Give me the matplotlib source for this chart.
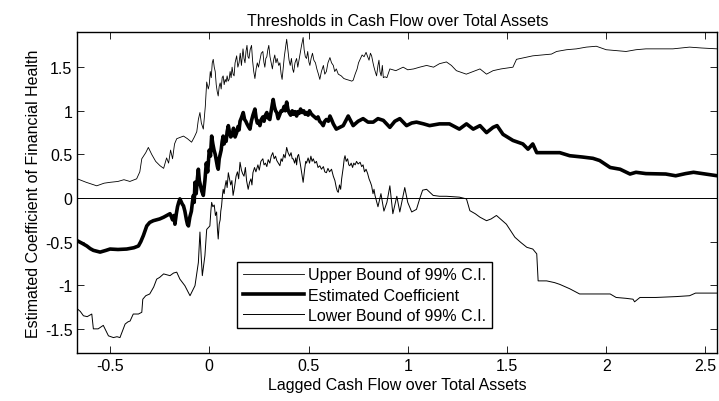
import matplotlib
matplotlib.use("Agg")
import matplotlib.pyplot as plt

# values (x = lagged cash flow, y = coefficient)

upper_x = [-0.665, -0.62, -0.567, -0.53, -0.50, -0.46, -0.43, -0.40, -0.366, -0.35, -0.34, -0.32,
           -0.307, -0.29, -0.27, -0.248, -0.23, -0.215, -0.205, -0.195, -0.185, -0.175, -0.164,
           -0.13, -0.11, -0.089, -0.075, -0.063, -0.055, -0.047, -0.04, -0.03, -0.02, -0.013,
           -0.005,
           0.000, 0.005, 0.010, 0.015, 0.020, 0.025, 0.030, 0.035, 0.040, 0.045, 0.050, 0.055,
           0.060, 0.065, 0.070, 0.075, 0.080, 0.085, 0.090, 0.095, 0.100, 0.105, 0.110, 0.115,
           0.120, 0.125, 0.130, 0.138, 0.144, 0.150, 0.156, 0.162, 0.170, 0.175, 0.180, 0.185,
           0.190, 0.195, 0.200, 0.206, 0.213, 0.218, 0.224, 0.230, 0.236, 0.242, 0.248, 0.256,
           0.262, 0.270, 0.275, 0.280, 0.285, 0.290, 0.295, 0.300, 0.306, 0.312, 0.318, 0.324,
           0.330, 0.336, 0.342, 0.350, 0.356, 0.362, 0.367, 0.372, 0.378, 0.384, 0.390, 0.396,
           0.402, 0.408, 0.414, 0.420, 0.425, 0.432, 0.440, 0.446, 0.452, 0.458, 0.465, 0.473,
           0.478, 0.484, 0.490, 0.496, 0.502, 0.507, 0.513, 0.520, 0.527, 0.535, 0.542, 0.550,
           0.557, 0.565, 0.575, 0.582, 0.590, 0.598, 0.608, 0.616, 0.625, 0.632, 0.640, 0.650,
           0.665, 0.678, 0.690, 0.705, 0.718, 0.725, 0.735, 0.745, 0.752, 0.760, 0.770, 0.780,
           0.790, 0.798, 0.805, 0.812, 0.818, 0.825, 0.830, 0.836, 0.843, 0.850, 0.855, 0.860,
           0.866, 0.872, 0.877, 0.885, 0.895,
           0.91, 0.94, 0.977, 1.00, 1.03, 1.06, 1.095, 1.13, 1.16,
           1.195, 1.22, 1.245, 1.295, 1.33, 1.364, 1.397, 1.43, 1.47, 1.53, 1.548, 1.59, 1.63,
           1.68, 1.724, 1.75, 1.80, 1.85, 1.90, 1.95, 2.00, 2.05, 2.10, 2.15, 2.20, 2.28, 2.336,
           2.42, 2.48, 2.56]
upper_y = [0.22, 0.18, 0.14, 0.17, 0.18, 0.19, 0.21, 0.19, 0.22, 0.30, 0.45, 0.52,
           0.58, 0.50, 0.42, 0.37, 0.34, 0.46, 0.40, 0.55, 0.45, 0.62, 0.68,
           0.71, 0.68, 0.64, 0.70, 0.76, 0.90, 0.98, 0.86, 0.79, 1.05, 1.33,
           1.25,
           1.30, 1.45, 1.38, 1.55, 1.59, 1.50, 1.45, 1.30, 1.22, 1.17, 1.28, 1.32,
           1.25, 1.38, 1.40, 1.30, 1.36, 1.33, 1.40, 1.34, 1.36, 1.45, 1.38, 1.50,
           1.42, 1.40, 1.55, 1.63, 1.50, 1.55, 1.66, 1.52, 1.71, 1.60, 1.55, 1.68,
           1.75, 1.62, 1.60, 1.70, 1.75, 1.58, 1.45, 1.37, 1.48, 1.55, 1.50, 1.59,
           1.66, 1.68, 1.56, 1.50, 1.60, 1.62, 1.70, 1.75, 1.62, 1.55, 1.48, 1.58,
           1.64, 1.55, 1.60, 1.52, 1.55, 1.42, 1.36, 1.48, 1.62, 1.72, 1.82, 1.70,
           1.58, 1.52, 1.60, 1.48, 1.44, 1.55, 1.60, 1.50, 1.58, 1.66, 1.75, 1.84,
           1.70, 1.62, 1.60, 1.68, 1.56, 1.52, 1.60, 1.66, 1.58, 1.55, 1.48, 1.42,
           1.36, 1.45, 1.52, 1.42, 1.45, 1.55, 1.61, 1.55, 1.52, 1.45, 1.48, 1.42,
           1.40, 1.37, 1.36, 1.35, 1.34, 1.35, 1.42, 1.48, 1.55, 1.59, 1.64, 1.62,
           1.67, 1.62, 1.58, 1.66, 1.63, 1.55, 1.50, 1.45, 1.40, 1.52, 1.58, 1.45,
           1.40, 1.52, 1.38, 1.39, 1.38,
           1.48, 1.46, 1.50, 1.47, 1.48, 1.50, 1.52, 1.50, 1.54,
           1.56, 1.52, 1.46, 1.42, 1.45, 1.48, 1.42, 1.46, 1.48, 1.50, 1.59, 1.61, 1.63,
           1.64, 1.65, 1.68, 1.70, 1.71, 1.73, 1.74, 1.70, 1.69, 1.68, 1.70, 1.71, 1.71, 1.71,
           1.73, 1.72, 1.71]

coef_x = [-0.665, -0.64, -0.617, -0.60, -0.584, -0.55, -0.52, -0.50, -0.46, -0.416, -0.38, -0.357,
          -0.345, -0.332, -0.315, -0.30, -0.282, -0.25, -0.23,
          -0.198, -0.19, -0.185, -0.178, -0.173, -0.166, -0.16, -0.154, -0.148, -0.142, -0.136,
          -0.13, -0.123, -0.115, -0.11, -0.105, -0.098, -0.09, -0.085, -0.08, -0.076, -0.072,
          -0.066, -0.06, -0.055, -0.05, -0.045, -0.038, -0.03, -0.022, -0.015, -0.008,
          0.000, 0.006, 0.012, 0.018, 0.024, 0.030, 0.036, 0.041, 0.045, 0.050, 0.055, 0.060,
          0.065, 0.070, 0.075, 0.080, 0.085, 0.090, 0.096, 0.102, 0.108, 0.115, 0.122, 0.130,
          0.138, 0.145, 0.150, 0.155, 0.162, 0.171, 0.178, 0.184, 0.190, 0.197, 0.205, 0.212,
          0.220, 0.230, 0.236, 0.242, 0.248, 0.255, 0.262, 0.270, 0.276, 0.283, 0.290, 0.296,
          0.305, 0.312, 0.318, 0.322, 0.328, 0.334, 0.340, 0.347, 0.354, 0.362, 0.370, 0.377,
          0.383, 0.390, 0.396, 0.402, 0.410, 0.418, 0.425, 0.432, 0.440, 0.446, 0.453, 0.460,
          0.468, 0.476, 0.483, 0.490, 0.498, 0.505, 0.512, 0.520, 0.530, 0.540, 0.548, 0.556,
          0.565, 0.574, 0.582, 0.590, 0.600, 0.608, 0.616, 0.625,
          0.64, 0.675, 0.70, 0.725, 0.75, 0.775,
          0.80, 0.826, 0.85, 0.877, 0.91, 0.935, 0.96, 0.994, 1.02, 1.044, 1.08, 1.11, 1.16, 1.21,
          1.26, 1.296, 1.33, 1.364, 1.397, 1.43, 1.45, 1.48, 1.53, 1.58, 1.606, 1.63, 1.65, 1.70,
          1.766, 1.816, 1.88, 1.933, 1.967, 2.02, 2.07, 2.12, 2.15, 2.20, 2.30, 2.35, 2.40, 2.44,
          2.50, 2.56]
coef_y = [-0.49, -0.52, -0.55, -0.58, -0.60, -0.62, -0.60, -0.585, -0.59, -0.585, -0.57, -0.55,
          -0.50, -0.43, -0.32, -0.28, -0.26, -0.24, -0.22,
          -0.18, -0.22, -0.25, -0.20, -0.30, -0.18, -0.10, -0.05, -0.01, -0.04, -0.07,
          -0.09, -0.15, -0.25, -0.30, -0.32, -0.22, -0.15, -0.05, 0.03, -0.05, 0.18,
          0.05, 0.22, 0.33, 0.20, 0.15, 0.08, 0.03, 0.20, 0.40, 0.30,
          0.55, 0.48, 0.71, 0.62, 0.55, 0.50, 0.42, 0.36, 0.33, 0.45, 0.50, 0.55,
          0.65, 0.71, 0.62, 0.68, 0.65, 0.76, 0.83, 0.75, 0.70, 0.72, 0.80, 0.70,
          0.75, 0.82, 0.78, 0.88, 0.92, 0.98, 0.90, 0.88, 0.85, 0.82, 0.79, 0.88,
          0.95, 1.02, 0.92, 0.86, 0.88, 0.83, 0.90, 0.93, 0.88, 0.95, 0.98, 0.92,
          0.90, 1.00, 1.08, 1.13, 1.05, 1.00, 0.98, 0.91, 0.95, 1.00, 1.00, 1.05,
          1.00, 1.10, 1.02, 0.98, 0.95, 1.00, 0.96, 0.99, 0.94, 0.99, 0.97, 1.02,
          0.98, 1.00, 0.96, 0.98, 0.95, 1.00, 0.97, 0.95, 0.93, 0.91, 0.93, 0.88,
          0.86, 0.83, 0.88, 0.90, 0.88, 0.94, 0.90, 0.85,
          0.79, 0.83, 0.94, 0.83, 0.88, 0.91,
          0.87, 0.87, 0.91, 0.89, 0.81, 0.88, 0.91, 0.83, 0.86, 0.87, 0.85, 0.83, 0.85, 0.85,
          0.79, 0.85, 0.79, 0.83, 0.75, 0.81, 0.83, 0.73, 0.66, 0.62, 0.56, 0.62, 0.52, 0.52,
          0.52, 0.485, 0.47, 0.455, 0.43, 0.35, 0.33, 0.275, 0.295, 0.28, 0.275, 0.255, 0.28, 0.295,
          0.275, 0.255]

lower_x = [-0.665, -0.65, -0.634, -0.615, -0.592, -0.584, -0.56, -0.534, -0.508, -0.483, -0.465,
           -0.45, -0.44, -0.424, -0.41, -0.399, -0.383, -0.357, -0.34, -0.335, -0.32, -0.30, -0.28,
           -0.265, -0.25, -0.23, -0.198, -0.18, -0.164, -0.148, -0.123, -0.097, -0.072, -0.055,
           -0.047, -0.04, -0.035, -0.022, -0.013,
           0.003, 0.008, 0.012, 0.018, 0.025, 0.031, 0.037, 0.041, 0.045, 0.050, 0.055, 0.058,
           0.062, 0.066, 0.070, 0.075, 0.080, 0.085, 0.090, 0.096, 0.102, 0.108, 0.114, 0.120,
           0.127, 0.135, 0.142, 0.148, 0.155, 0.162, 0.168, 0.175, 0.182, 0.188, 0.196, 0.203,
           0.210, 0.215, 0.220, 0.228, 0.235, 0.245, 0.252, 0.260, 0.270, 0.276, 0.283, 0.290,
           0.297, 0.305, 0.312, 0.320, 0.327, 0.334, 0.340, 0.348, 0.356, 0.362, 0.368, 0.375,
           0.382, 0.390, 0.397, 0.405, 0.412, 0.418, 0.423, 0.430, 0.436, 0.440, 0.445, 0.450,
           0.458, 0.465, 0.473, 0.480, 0.486, 0.490, 0.498, 0.505, 0.512, 0.518, 0.524, 0.532,
           0.540, 0.548, 0.557, 0.565, 0.575, 0.582, 0.590, 0.598, 0.606, 0.616, 0.625, 0.633,
           0.640, 0.645, 0.650, 0.656, 0.662, 0.667, 0.675, 0.680, 0.684, 0.690, 0.697, 0.703,
           0.708, 0.715, 0.722, 0.728, 0.735, 0.742, 0.750, 0.760, 0.768, 0.775, 0.782, 0.790,
           0.798, 0.805, 0.812, 0.818, 0.825, 0.830, 0.835,
           0.85, 0.865, 0.88, 0.895, 0.91, 0.925, 0.945, 0.96, 0.985, 1.00, 1.02, 1.044, 1.06,
           1.075, 1.095, 1.128, 1.16, 1.195, 1.26, 1.296, 1.313, 1.34, 1.364, 1.397, 1.42, 1.447,
           1.497, 1.54, 1.57, 1.60, 1.63, 1.65, 1.657, 1.70, 1.74, 1.766, 1.816, 1.866, 1.95,
           2.02, 2.05, 2.10, 2.135, 2.143, 2.17, 2.25, 2.353, 2.42, 2.45, 2.56]
lower_y = [-1.27, -1.30, -1.35, -1.36, -1.33, -1.50, -1.50, -1.46, -1.58, -1.60, -1.59,
           -1.60, -1.54, -1.445, -1.42, -1.41, -1.33, -1.33, -1.31, -1.16, -1.12, -1.10, -1.02,
           -0.93, -0.91, -0.87, -0.89, -0.86, -0.85, -0.93, -1.005, -1.12, -1.005, -0.74,
           -0.39, -0.70, -0.89, -0.66, -0.36,
           -0.32, -0.15, -0.05, -0.10, -0.08, -0.20, -0.16, -0.35, -0.47, -0.30, -0.25, -0.15,
           -0.09, 0.02, 0.10, 0.05, 0.14, 0.20, 0.12, 0.29, 0.22, 0.15, 0.20, 0.03,
           0.12, 0.25, 0.30, 0.22, 0.41, 0.32, 0.28, 0.25, 0.35, 0.20, 0.10, 0.18,
           0.22, 0.15, 0.29, 0.35, 0.30, 0.38, 0.32, 0.42, 0.45, 0.38, 0.40, 0.36,
           0.44, 0.40, 0.48, 0.52, 0.45, 0.48, 0.43, 0.40, 0.37, 0.45, 0.42, 0.50,
           0.46, 0.58, 0.52, 0.48, 0.52, 0.45, 0.45, 0.40, 0.46, 0.38, 0.48, 0.50,
           0.40, 0.30, 0.18, 0.32, 0.42, 0.40, 0.46, 0.40, 0.48, 0.42, 0.45, 0.40,
           0.42, 0.35, 0.37, 0.33, 0.36, 0.30, 0.29, 0.34, 0.30, 0.33, 0.25, 0.20,
           0.12, 0.08, 0.065, 0.15, 0.10, 0.22, 0.35, 0.45, 0.485, 0.42, 0.45, 0.38,
           0.37, 0.40, 0.35, 0.40, 0.38, 0.42, 0.39, 0.41, 0.36, 0.38, 0.30, 0.33,
           0.28, 0.22, 0.18, 0.14, 0.05, 0.10, 0.03,
           -0.10, 0.05, -0.15, -0.05, 0.14, -0.18, 0.02, -0.16, 0.12, -0.05, -0.16, -0.13, -0.01,
           0.09, 0.10, 0.03, 0.02, 0.02, 0.01, -0.01, -0.145, -0.18, -0.22, -0.26, -0.24, -0.20,
           -0.30, -0.45, -0.51, -0.565, -0.585, -0.64, -0.95, -0.95, -0.97, -0.99, -1.04, -1.10, -1.10,
           -1.10, -1.14, -1.15, -1.16, -1.19, -1.14, -1.14, -1.13, -1.12, -1.09, -1.09]

plt.rcParams['font.family'] = ['Liberation Sans', 'DejaVu Sans']
plt.rcParams['font.size'] = 11.5

fig = plt.figure(figsize=(7.19, 4.02), dpi=100)
ax = fig.add_axes([0.1075, 0.1187, 0.8902, 0.7985])

ax.plot(upper_x, upper_y, color='black', linewidth=0.6, label='Upper Bound of 99% C.I.')
ax.plot(coef_x, coef_y, color='black', linewidth=2.6, label='Estimated Coefficient')
ax.plot(lower_x, lower_y, color='black', linewidth=0.7, label='Lower Bound of 99% C.I.')
ax.axhline(0, color='black', linewidth=0.7)

ax.set_xlim(-0.665, 2.56)
ax.set_ylim(-1.78, 1.90)
ax.set_xticks([-0.5, 0, 0.5, 1, 1.5, 2, 2.5])
ax.set_xticklabels(['-0.5', '0', '0.5', '1', '1.5', '2', '2.5'])
ax.set_yticks([-1.5, -1, -0.5, 0, 0.5, 1, 1.5])
ax.set_yticklabels(['-1.5', '-1', '-0.5', '0', '0.5', '1', '1.5'])
ax.tick_params(direction='in', top=True, right=True, length=5, width=0.6, labelsize=11.5)
for s in ax.spines.values():
    s.set_linewidth(1.0)

ax.set_title('Thresholds in Cash Flow over Total Assets', fontsize=11.5, pad=5)
ax.set_xlabel('Lagged Cash Flow over Total Assets', fontsize=11.5, labelpad=3)
ax.set_ylabel('Estimated Coefficient of Financial Health', fontsize=11.5, labelpad=3)

leg = ax.legend(loc='lower left', bbox_to_anchor=(0.25, 0.078), borderaxespad=0,
                fancybox=False, edgecolor='black', framealpha=1, handlelength=3.8,
                handletextpad=0.3, borderpad=0.35, labelspacing=0.32, fontsize=11.5)
leg.get_frame().set_linewidth(1.0)

fig.savefig('out.png', dpi=100)
